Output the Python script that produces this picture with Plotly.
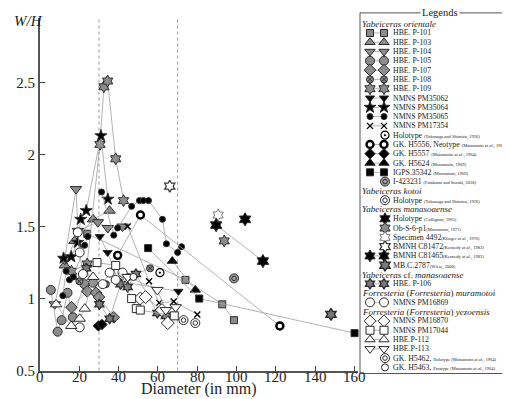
import plotly.graph_objects as go

# ---------------- data (Diameter in mm, W/H) ----------------
p101_x = [24, 74, 92.7, 98.7]
p101_y = [1.45, 1.13, 0.96, 0.85]
p103_x = [12.6, 17.6, 27, 35.4]
p103_y = [1.23, 1.40, 1.55, 1.61]
p104_x = [7.5, 12.5, 18.3, 19.3, 29.4, 34.5, 42]
p104_y = [0.96, 1.27, 1.76, 1.47, 1.53, 1.49, 1.50]
p105_x = [5.5, 9, 11, 14, 16.7, 22.6, 27]
p105_y = [1.06, 0.77, 0.85, 1.04, 0.87, 1.10, 1.11]
p107_x = [16, 24, 28.5, 30, 37.5]
p107_y = [0.94, 1.05, 1.04, 1.01, 0.87]
p108_x = [20, 33.5, 45, 56]
p108_y = [1.12, 1.10, 1.15, 1.21]
p109_x = [16, 24, 30.5, 32.5, 34.4, 38.5, 42.5]
p109_y = [1.19, 1.24, 2.07, 2.47, 2.51, 1.97, 1.68]
pm35062_x = [30.4, 34.4, 40, 70.4]
pm35062_y = [1.43, 1.32, 1.12, 1.05]
pm35064_x = [12, 15.9, 19.2, 20.7, 23.5, 31, 34.5]
pm35064_y = [1.28, 1.29, 1.39, 1.55, 1.61, 2.13, 1.69]
pm35065_x = [31.3, 37.5, 39.5, 46.6, 50.6, 52.6, 55.2, 62.3, 64.3, 70, 72,
             None, 11.6, 13.3, 15, 17, 22.7, 24.3]
pm35065_y = [1.74, 1.44, 1.49, 1.64, 1.68, 1.68, 1.68, 1.55, 1.38, 1.32, 1.36,
             None, 1.02, 1.19, 1.13, 1.15, 1.37, 1.43]
pm17354_x = [44.6, 55.5, 60.6, 68, 80]
pm17354_y = [1.50, 1.12, 0.97, 0.98, 0.89]
holo_ts_x = [61]
holo_ts_y = [1.18]
h5556_x = [39.5, 51.1, 122]
h5556_y = [1.30, 1.58, 0.81]
h5557_x = [29.7, 31.5]
h5557_y = [0.81, 0.82]
h5624_x = [67.3, 79]
h5624_y = [1.26, 1.06]
igps_x = [55, 81, 160]
igps_y = [1.35, 1.00, 0.76]
i423231_x = [98.7]
i423231_y = [1.14]
kotoi_x = [79]
kotoi_y = [0.83]
collignon_x = [104.3]
collignon_y = [1.55]
obs_x = [93.7]
obs_y = [1.40]
sp4492_x = [90.6]
sp4492_y = [1.58]
c81472_x = [66]
c81472_y = [1.78]
c81465_x = [89.6, 113.4]
c81465_y = [1.51, 1.26]
mbc_x = [148]
mbc_y = [0.89]
p106_x = [23.5, 30.2, 35.4, 41, 44.6, 48.8, 59.7, 64]
p106_y = [1.21, 0.96, 0.86, 1.10, 1.08, 1.17, 0.90, 0.88]
pm16869_x = [19.2, 20.2, 21.8, 31.9, 35.4, 38.5, 42, None, 20.2]
pm16869_y = [1.46, 1.32, 1.17, 1.10, 1.18, 1.13, 1.18, None, 0.80]
pm16870_x = [51, 53.7, 62, 65]
pm16870_y = [1.00, 1.01, 0.92, 0.83]
pm17044_x = [29, 38.5, 46.6, 49, 51, 68.3]
pm17044_y = [1.25, 1.23, 1.00, 0.93, 0.92, 0.88]
p112_x = [8.2, 15.9, 20.2, 22.8, 27]
p112_y = [0.96, 0.81, 0.86, 0.93, 1.15]
p113_x = [44.6, 59.7, 64, 69]
p113_y = [1.15, 1.06, 0.92, 0.94]
h5462_x = [73]
h5462_y = [0.85]
h5463_x = [47.5]
h5463_y = [1.15]

x_ticks = [0, 20, 40, 60, 80, 100, 120, 140, 160]
y_ticks = [0.5, 1, 1.5, 2, 2.5]
y_tick_text = ["0.5", "1", "1.5", "2", "2.5"]
boundaries = [30, 70]

# ---------------- styles ----------------
GRAY = "#8c8c8c"
DARK = "#2b2b2b"
LINE = "#a0a0a0"
FONT = "Liberation Serif, Times New Roman, DejaVu Serif, serif"


def mk(symbol, fill, size=9, lw=1, lc=DARK):
    return dict(symbol=symbol, color=fill, size=size, line=dict(color=lc, width=lw))


styles = {
    "p101": mk("square", GRAY, 7),
    "p103": mk("triangle-up", GRAY, 10),
    "p104": mk("triangle-down", GRAY, 10),
    "p105": mk("circle", GRAY, 9),
    "p107": mk("diamond", GRAY, 9),
    "p108": mk("circle-x", GRAY, 7),
    "p109": mk("hexagram", GRAY, 9),
    "pm35062": mk("triangle-down", "black", 8),
    "pm35064": mk("star", "black", 9),
    "pm35065": mk("circle", "black", 6),
    "pm17354": mk("x-thin-open", "black", 6, 1.4, "black"),
    "holo_ts": mk("circle-dot", "white", 8, 1.2, "black"),
    "h5556": mk("circle", "white", 7, 2.4, "black"),
    "h5557": mk("diamond", "black", 8),
    "h5624": mk("triangle-up", "black", 9),
    "igps": mk("square", "black", 7),
    "i423231": mk("circle", "#a0a0a0", 9),
    "kotoi": mk("circle", "white", 9),
    "collignon": mk("hexagram", "black", 10),
    "obs": mk("hexagram", GRAY, 9),
    "sp4492": mk("hexagram", "white", 9, 1, "#777777"),
    "c81472": mk("hexagram", "white", 9, 1.2, "#333333"),
    "c81465": mk("hexagram", "black", 10),
    "mbc": mk("hexagram", "#7a7a7a", 9, 1.4, DARK),
    "p106": mk("hexagram", "#7a7a7a", 8, 1.3, DARK),
    "pm16869": mk("circle", "white", 9),
    "pm16870": mk("diamond", "white", 10),
    "pm17044": mk("square", "white", 8),
    "p112": mk("triangle-up", "white", 10),
    "p113": mk("triangle-down", "white", 10),
    "h5462": mk("circle", "white", 9),
    "h5463": mk("circle", "white", 7),
}
inner = {
    "i423231": mk("circle", "#a0a0a0", 4.5),
    "kotoi": mk("circle", "white", 4.5),
    "h5462": mk("circle", "white", 4.5),
}

series = [
    ("p101", p101_x, p101_y), ("p103", p103_x, p103_y), ("p104", p104_x, p104_y),
    ("p105", p105_x, p105_y), ("p107", p107_x, p107_y), ("p108", p108_x, p108_y),
    ("p109", p109_x, p109_y), ("pm35062", pm35062_x, pm35062_y),
    ("pm35064", pm35064_x, pm35064_y), ("pm35065", pm35065_x, pm35065_y),
    ("pm17354", pm17354_x, pm17354_y), ("holo_ts", holo_ts_x, holo_ts_y),
    ("h5556", h5556_x, h5556_y), ("h5557", h5557_x, h5557_y),
    ("h5624", h5624_x, h5624_y), ("igps", igps_x, igps_y),
    ("i423231", i423231_x, i423231_y), ("kotoi", kotoi_x, kotoi_y),
    ("collignon", collignon_x, collignon_y), ("obs", obs_x, obs_y),
    ("sp4492", sp4492_x, sp4492_y), ("c81472", c81472_x, c81472_y),
    ("c81465", c81465_x, c81465_y), ("mbc", mbc_x, mbc_y),
    ("p106", p106_x, p106_y), ("pm16869", pm16869_x, pm16869_y),
    ("pm16870", pm16870_x, pm16870_y), ("pm17044", pm17044_x, pm17044_y),
    ("p112", p112_x, p112_y), ("p113", p113_x, p113_y),
    ("h5462", h5462_x, h5462_y), ("h5463", h5463_x, h5463_y),
]

# legend rows: (kind, key, label, pair)
S = "<span style='font-size:4.5px'>"
E = "</span>"
ETAL = "<i>et al</i>."
legend_rows = [
    ("h", None, "Yabeiceras orientale", False),
    ("e", "p101", "HBE. P-101", True),
    ("e", "p103", "HBE. P-103", True),
    ("e", "p104", "HBE. P-104", True),
    ("e", "p105", "HBE. P-105", True),
    ("e", "p107", "HBE. P-107", True),
    ("e", "p108", "HBE. P-108", True),
    ("e", "p109", "HBE. P-109", True),
    ("e", "pm35062", "NMNS PM35062", True),
    ("e", "pm35064", "NMNS PM35064", True),
    ("e", "pm35065", "NMNS PM35065", True),
    ("e", "pm17354", "NMNS PM17354", True),
    ("e", "holo_ts", "Holotype " + S + "(Tokunaga and Shimizu, 1926)" + E, False),
    ("e", "h5556", "GK. H5556, Neotype " + S + "(Matsumoto " + ETAL + ", 1964)" + E, True),
    ("e", "h5557", "GK. H5557 " + S + "(Matsumoto " + ETAL + ", 1964)" + E, True),
    ("e", "h5624", "GK. H5624 " + S + "(Matsumoto, 1969)" + E, True),
    ("e", "igps", "IGPS.35342 " + S + "(Matsumoto, 1969)" + E, True),
    ("e", "i423231", "I-423231 " + S + "(Futakami and Suzuki, 2018)" + E, False),
    ("h", None, "Yabeiceras kotoi", False),
    ("e", "kotoi", "Holotype " + S + "(Tokunaga and Shimizu, 1926)" + E, False),
    ("h", None, "Yabeiceras manasoaense", False),
    ("e", "collignon", "Holotype " + S + "(Collignon, 1965)" + E, False),
    ("e", "obs", "Ob-S-6-p1" + S + "(Matsumoto, 1971)" + E, False),
    ("e", "sp4492", "Specimen 4492" + S + "(Klinger " + ETAL + ", 1976)" + E, False),
    ("e", "c81472", "BMNH C81472" + S + "(Kennedy " + ETAL + ", 1983)" + E, False),
    ("e", "c81465", "BMNH C81465" + S + "(Kennedy " + ETAL + ", 1983)" + E, True),
    ("e", "mbc", "MB.C.2787" + S + "(Wiese, 2000)" + E, False),
    ("h", None, "Yabeiceras</i> cf. <i>manasoaense", False),
    ("e", "p106", "HBE. P-106", True),
    ("h", None, "Forresteria</i> (<i>Forresteria</i>) <i>muramotoi", False),
    ("e", "pm16869", "NMNS PM16869", True),
    ("h", None, "Forresteria</i> (<i>Forresteria</i>) <i>yezoensis", False),
    ("e", "pm16870", "NMNS PM16870", True),
    ("e", "pm17044", "NMNS PM17044", True),
    ("e", "p112", "HBE.P-112", True),
    ("e", "p113", "HBE.P-113", True),
    ("e", "h5462", "GK. H5462, " + S + "Holotype (Matsumoto " + ETAL + ", 1964)" + E, False),
    ("e", "h5463", "GK. H5463, " + S + "Paratype (Matsumoto " + ETAL + ", 1964)" + E, False),
]

W, H = 510, 399
PL, PR, PT, PB = 32, 350, 10, 370  # plot area in pixels

fig = go.Figure()

# boundary lines
for b in boundaries:
    fig.add_shape(type="line", xref="x", yref="y domain", x0=b, x1=b, y0=0, y1=1,
                  line=dict(color="#9a9a9a", width=1, dash="dot"), layer="below")

for key, xs, ys in series:
    n_real = sum(1 for v in xs if v is not None)
    fig.add_trace(go.Scatter(x=xs, y=ys, mode="lines+markers" if n_real > 1 else "markers",
                             line=dict(color=LINE, width=0.8), marker=styles[key],
                             cliponaxis=False, showlegend=False, hoverinfo="skip"))
    if key in inner:
        fig.add_trace(go.Scatter(x=xs, y=ys, mode="markers", marker=inner[key],
                                 cliponaxis=False, showlegend=False, hoverinfo="skip"))

# x tick labels placed just under the axis
for t in x_ticks:
    fig.add_annotation(xref="x", yref="y2", x=t, y=377, text=str(t), showarrow=False,
                       xanchor="center", yanchor="middle",
                       font=dict(family=FONT, size=15, color="#222"))

# ---------- manual legend (pixel coordinate axes x2/y2) ----------
row_top, row_step = 16, 9.48
fig.add_shape(type="rect", xref="x2", yref="y2", x0=352, x1=508, y0=5, y1=373,
              line=dict(color="#555555", width=1))
fig.add_annotation(xref="x2", yref="y2", x=432, y=5, text="Legends", showarrow=False,
                   font=dict(family=FONT, size=10.5, color="#222"), bgcolor="white",
                   xanchor="center", yanchor="middle", borderpad=1)
for i, (kind, key, label, pair) in enumerate(legend_rows):
    yy = row_top + i * row_step
    if kind == "h":
        fig.add_annotation(xref="x2", yref="y2", x=352, y=yy, text="<i>" + label + "</i>",
                           showarrow=False, xanchor="left", yanchor="middle",
                           font=dict(family=FONT, size=9, color="#222"))
        continue
    st = dict(styles[key])
    st["size"] = min(st["size"], 9)
    xs_leg = [362, 376] if pair else [377]
    ys_leg = [yy] * len(xs_leg)
    fig.add_trace(go.Scatter(x=xs_leg, y=ys_leg, xaxis="x2", yaxis="y2",
                             mode="lines+markers" if pair else "markers",
                             line=dict(color=LINE, width=0.8), marker=st,
                             cliponaxis=False, showlegend=False, hoverinfo="skip"))
    if key in inner:
        fig.add_trace(go.Scatter(x=xs_leg, y=ys_leg, xaxis="x2", yaxis="y2", mode="markers",
                                 marker=inner[key], cliponaxis=False, showlegend=False,
                                 hoverinfo="skip"))
    fig.add_annotation(xref="x2", yref="y2", x=383, y=yy, text=label, showarrow=False,
                       xanchor="left", yanchor="middle",
                       font=dict(family=FONT, size=7.8, color="#222"))

# axis titles
fig.add_annotation(xref="x2", yref="y2", x=4, y=13, text="<i>W/H</i>", showarrow=False,
                   xanchor="left", yanchor="middle", font=dict(family=FONT, size=15, color="#222"))
fig.add_annotation(xref="x2", yref="y2", x=191, y=389, text="Diameter (in mm)", showarrow=False,
                   xanchor="center", yanchor="middle", font=dict(family=FONT, size=16, color="#222"))

fig.update_layout(
    width=W, height=H, margin=dict(l=0, r=0, t=0, b=0),
    paper_bgcolor="white", plot_bgcolor="rgba(0,0,0,0)", showlegend=False,
    xaxis=dict(domain=[PL / W, PR / W], range=[0, (PR - PL) / 1.966], tickvals=x_ticks,
               showticklabels=False,
               ticks="inside", ticklen=5, tickwidth=1.3, tickcolor="#444",
               showline=True, linewidth=2, linecolor="#555", showgrid=False, zeroline=False,
               anchor="y"),
    yaxis=dict(domain=[1 - PB / H, 1 - PT / H], range=[0.5, 0.5 + (PB - PT) / 147.0],
               tickvals=y_ticks, ticktext=y_tick_text,
               ticks="inside", ticklen=5, tickwidth=1.3, tickcolor="#444",
               showline=True, linewidth=2, linecolor="#555", showgrid=False, zeroline=False,
               tickfont=dict(family=FONT, size=15, color="#222"), anchor="x"),
    xaxis2=dict(domain=[0, 1], range=[0, W], visible=False, anchor="y2", fixedrange=True),
    yaxis2=dict(domain=[0, 1], range=[H, 0], visible=False, anchor="x2", fixedrange=True),
)

fig.write_html("out.html")
